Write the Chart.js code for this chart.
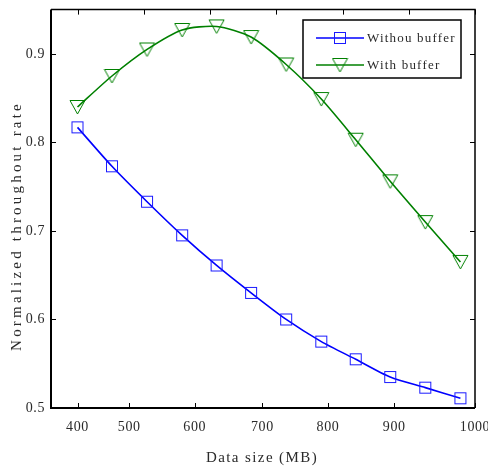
<!DOCTYPE html>
<html>
<head>
<meta charset="utf-8">
<script src="https://cdn.jsdelivr.net/npm/chart.js@4/dist/chart.umd.min.js"></script>
<style>
html,body{margin:0;padding:0;background:#fff;}
#wrap{width:488px;height:470px;position:relative;}
</style>
</head>
<body>
<div id="wrap"><canvas id="c" width="488" height="470"></canvas></div>
<script>
// ---- data ----
const dataSizes = [400, 452, 505, 558, 610, 662, 715, 768, 820, 872, 925, 978];
const withoutBuffer = [0.817, 0.773, 0.733, 0.695, 0.661, 0.630, 0.600, 0.575, 0.555, 0.535, 0.523, 0.511];
const withBuffer = [0.840, 0.875, 0.905, 0.927, 0.931, 0.919, 0.888, 0.849, 0.803, 0.756, 0.710, 0.665];
const seriesNames = ['Withou buffer', 'With buffer'];
const xTickValues = [400, 478, 577, 679, 778, 878, 1000];
const xTickLabels = ['400', '500', '600', '700', '800', '900', '1000'];
const xTopTicks = [400, 500, 600, 700, 800, 900, 1000];
const yTickValues = [0.5, 0.6, 0.7, 0.8, 0.9];
const xTitle = 'Data size (MB)';
const yTitle = 'Normalized throughout rate';

const SERIF = '"Liberation Serif", "DejaVu Serif", serif';
const TXT = '#2a2a2a';
const BLUE = '#0000ff';
const GREEN = '#008000';

function squareMarker(color) {
  const c = document.createElement('canvas');
  c.width = 14; c.height = 14;
  const g = c.getContext('2d');
  g.strokeStyle = color; g.lineWidth = 1;
  g.strokeRect(1.5, 1.5, 11, 11);
  return c;
}
function triangleMarker(color) {
  const c = document.createElement('canvas');
  c.width = 17; c.height = 16;
  const g = c.getContext('2d');
  g.strokeStyle = color; g.lineWidth = 1;
  g.beginPath();
  g.moveTo(1, 1.5); g.lineTo(16, 1.5); g.lineTo(8.5, 15); g.closePath();
  g.stroke();
  return c;
}
const sqImg = squareMarker('#1a1aff');
const triImg = triangleMarker(GREEN);

const decor = {
  id: 'decor',
  beforeDraw(chart) {
    chart.ctx.letterSpacing = '0.6px';
  },
  afterDraw(chart) {
    const ctx = chart.ctx;
    const a = chart.chartArea;
    const xs = chart.scales.x, ys = chart.scales.y;
    ctx.save();
    ctx.strokeStyle = '#000';
    // ticks (inward)
    ctx.lineWidth = 1;
    const tl = 5;
    ctx.beginPath();
    xTickValues.forEach(v => { const p = Math.round(xs.getPixelForValue(v)) + 0.5; ctx.moveTo(p, a.bottom); ctx.lineTo(p, a.bottom - tl); });
    xTopTicks.forEach(v => { const p = Math.round(xs.getPixelForValue(v)) + 0.5; ctx.moveTo(p, a.top); ctx.lineTo(p, a.top + tl); });
    yTickValues.forEach(v => { const p = Math.round(ys.getPixelForValue(v)) + 0.5; ctx.moveTo(a.left, p); ctx.lineTo(a.left + tl, p); ctx.moveTo(a.right, p); ctx.lineTo(a.right - tl, p); });
    ctx.stroke();
    // frame
    ctx.lineWidth = 2;
    ctx.beginPath();
    ctx.moveTo(a.left, a.top); ctx.lineTo(a.left, a.bottom); ctx.lineTo(a.right, a.bottom);
    ctx.stroke();
    ctx.lineWidth = 1.5;
    ctx.beginPath();
    ctx.moveTo(a.left, a.top); ctx.lineTo(a.right, a.top); ctx.lineTo(a.right, a.bottom);
    ctx.stroke();

    // axis titles
    ctx.fillStyle = TXT;
    ctx.font = '15px ' + SERIF;
    ctx.textBaseline = 'middle';
    ctx.textAlign = 'center';
    ctx.letterSpacing = '1.4px';
    ctx.fillText(xTitle, 262, 458);
    ctx.save();
    ctx.translate(17, 226);
    ctx.rotate(-Math.PI / 2);
    ctx.letterSpacing = '3.2px';
    ctx.fillText(yTitle, 0, 0);
    ctx.restore();

    // legend
    const bx = 303, by = 20, bw = 158, bh = 58;
    ctx.fillStyle = '#fff';
    ctx.fillRect(bx, by, bw, bh);
    ctx.lineWidth = 1.5;
    ctx.strokeStyle = '#000';
    ctx.strokeRect(bx, by, bw, bh);
    const rows = [38, 65];
    chart.data.datasets.forEach((ds, i) => {
      const y = rows[i];
      ctx.strokeStyle = ds.borderColor;
      ctx.lineWidth = 1.5;
      ctx.beginPath(); ctx.moveTo(316, y); ctx.lineTo(364, y); ctx.stroke();
      const img = ds.pointStyle;
      ctx.drawImage(img, 340 - img.width / 2, y - img.height / 2);
      ctx.fillStyle = TXT;
      ctx.font = '13px ' + SERIF;
      ctx.textAlign = 'left';
      ctx.textBaseline = 'middle';
      ctx.letterSpacing = '1.2px';
      ctx.fillText(ds.label, 367, y + 1);
    });
    ctx.restore();
  }
};

const mk = (xs, ys) => xs.map((x, i) => ({ x: x, y: ys[i] }));

new Chart(document.getElementById('c'), {
  type: 'line',
  data: {
    datasets: [
      {
        label: seriesNames[0], data: mk(dataSizes, withoutBuffer),
        borderColor: BLUE, backgroundColor: 'transparent', borderWidth: 1.6,
        pointStyle: sqImg, pointRadius: 7, tension: 0.25, fill: false
      },
      {
        label: seriesNames[1], data: mk(dataSizes, withBuffer),
        borderColor: GREEN, backgroundColor: 'transparent', borderWidth: 1.6,
        pointStyle: triImg, pointRadius: 8, tension: 0.25, fill: false
      }
    ]
  },
  options: {
    responsive: false,
    animation: false,
    events: [],
    layout: { padding: { left: 0, right: 13, top: 9, bottom: 0 } },
    plugins: { legend: { display: false }, tooltip: { enabled: false } },
    scales: {
      x: {
        type: 'linear', min: 360, max: 1000,
        grid: { display: false, drawTicks: false }, border: { display: false },
        afterBuildTicks: s => { s.ticks = xTickValues.map(v => ({ value: v })); },
        afterFit: s => { s.height = 62; s.paddingLeft = 0; s.paddingRight = 0; },
        ticks: {
          autoSkip: false, maxRotation: 0, padding: 11, color: TXT,
          font: { family: SERIF, size: 14 },
          callback: (v, i) => xTickLabels[i]
        }
      },
      y: {
        type: 'linear', min: 0.5, max: 0.95,
        grid: { display: false, drawTicks: false }, border: { display: false },
        afterBuildTicks: s => { s.ticks = yTickValues.map(v => ({ value: v })); },
        afterFit: s => { s.width = 51; s.paddingTop = 0; s.paddingBottom = 0; },
        ticks: {
          autoSkip: false, padding: 6, color: TXT,
          font: { family: SERIF, size: 14 },
          callback: v => v.toFixed(1)
        }
      }
    }
  },
  plugins: [decor]
});
</script>
</body>
</html>
